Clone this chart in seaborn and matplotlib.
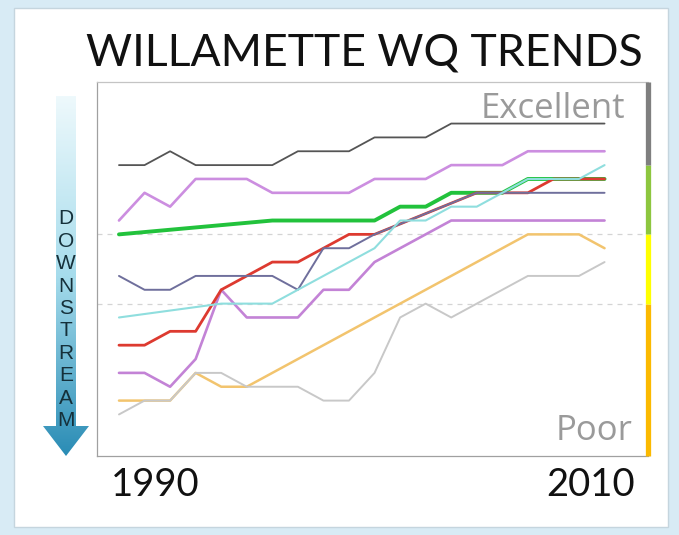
import numpy as np
import pandas as pd
import matplotlib
matplotlib.use("Agg")
import matplotlib.pyplot as plt
import matplotlib.transforms as mtransforms
from matplotlib.patches import Rectangle, Polygon
from matplotlib.colors import LinearSegmentedColormap
import seaborn as sns

# Data (water-quality index per site, by year)
years = list(range(1990, 2010))

black_vals = [21, 21, 22, 21, 21, 21, 21, 22, 22, 22, 23, 23, 23, 24, 24, 24, 24, 24, 24, 24]
purple_top_vals = [17, 19, 18, 20, 20, 20, 19, 19, 19, 19, 20, 20, 20, 21, 21, 21, 22, 22, 22, 22]
magenta_vals = [6, 6, 5, 7, 12, 10, 10, 10, 12, 12, 14, 15, 16, 17, 17, 17, 17, 17, 17, 17]
grey_vals = [3, 4, 4, 6, 6, 5, 5, 5, 4, 4, 6, 10, 11, 10, 11, 12, 13, 13, 13, 14]

green_years = [1990, 1996, 1997, 1998, 1999, 2000, 2001, 2002, 2003, 2004, 2005, 2006, 2007, 2008, 2009]
green_vals = [16, 17, 17, 17, 17, 17, 18, 18, 19, 19, 19, 20, 20, 20, 20]

red_years = [1990, 1991, 1992, 1993, 1994, 1995, 1996, 1997, 1998, 1999, 2000, 2004, 2005, 2006, 2007, 2008, 2009]
red_vals = [8, 8, 9, 9, 12, 13, 14, 14, 15, 16, 16, 19, 19, 19, 20, 20, 20]

slate_years = [1990, 1991, 1992, 1993, 1994, 1995, 1996, 1997, 1998, 1999, 2000, 2004, 2005, 2006, 2007, 2008, 2009]
slate_vals = [13, 12, 12, 13, 13, 13, 13, 12, 15, 15, 16, 19, 19, 19, 19, 19, 19]

cyan_years = [1990, 1994, 1995, 1996, 1997, 1998, 1999, 2000, 2001, 2002, 2003, 2004, 2005, 2006, 2007, 2008, 2009]
cyan_vals = [10, 11, 11, 11, 12, 13, 14, 15, 17, 17, 18, 18, 19, 20, 20, 20, 21]

orange_years = [1990, 1991, 1992, 1993, 1994, 1995, 2006, 2007, 2008, 2009]
orange_vals = [4, 4, 4, 6, 5, 5, 16, 16, 16, 15]

# quality bands on the right edge (low, high)
band_edges = [(0, 11), (11, 16), (16, 21), (21, 27)]
band_colors = ["#fbb900", "#ffff00", "#8dc63f", "#7f7f7f"]

series = [
    ("green", green_years, green_vals),
    ("orange", orange_years, orange_vals),
    ("grey", years, grey_vals),
    ("magenta", years, magenta_vals),
    ("red", red_years, red_vals),
    ("slate", slate_years, slate_vals),
    ("cyan", cyan_years, cyan_vals),
    ("purple", years, purple_top_vals),
    ("black", years, black_vals),
]
palette = {
    "green": "#22c23c", "orange": "#f2c46e", "grey": "#c8c8c8", "magenta": "#c383d6",
    "red": "#dd3a30", "slate": "#6f6f9c", "cyan": "#8fdede", "purple": "#cc8ee0",
    "black": "#555555",
}
widths = {
    "green": 2.8, "orange": 1.8, "grey": 1.4, "magenta": 1.9, "red": 2.0,
    "slate": 1.4, "cyan": 1.5, "purple": 1.9, "black": 1.3,
}

df = pd.concat(
    [pd.DataFrame({"site": n, "year": xs, "wq": ys}) for n, xs, ys in series],
    ignore_index=True,
)

sns.set_style("white")
narrow = ["Lato", "DejaVu Sans"]
wide = ["Open Sans", "DejaVu Sans"]

fig = plt.figure(figsize=(6.79, 5.35), dpi=100, facecolor="#d8ebf5")

# background layer in pixel coords: white panel, arrow, title
bg = fig.add_axes([0, 0, 1, 1], zorder=0)
bg.add_patch(Rectangle((14, 8), 654, 519, facecolor="white", edgecolor="#c5d5de", lw=1, zorder=1))
arrow_pts = [(56, 96), (76, 96), (76, 426), (89, 426), (66, 456), (43, 426), (56, 426)]
arrow = Polygon(arrow_pts, closed=True, facecolor="none", edgecolor="none", zorder=2)
bg.add_patch(arrow)
cmap = LinearSegmentedColormap.from_list("arr", ["#eef9fc", "#a6dcec", "#2a8cb5"])
im = bg.imshow(np.linspace(0, 1, 256).reshape(-1, 1), cmap=cmap, aspect="auto",
               extent=(43, 89, 456, 96), origin="upper", zorder=3)
im.set_clip_path(arrow)
for i, ch in enumerate("DOWNSTREAM"):
    bg.text(66, 219 + i * 22.4, ch, ha="center", va="center", fontsize=15,
            color="#15303a", family=["Liberation Sans", "DejaVu Sans"], zorder=4)
bg.text(364, 66, "WILLAMETTE WQ TRENDS", ha="center", va="baseline",
        fontsize=32, color="#111111", family=narrow, zorder=4)
bg.set_xlim(0, 679)
bg.set_ylim(535, 0)
bg.axis("off")

# main chart
ax = fig.add_axes([97 / 679, 79 / 535, 551 / 679, 374 / 535], zorder=1)
ax.set_facecolor("white")
sns.lineplot(data=df, x="year", y="wq", hue="site", size="site",
             hue_order=[s[0] for s in series], palette=palette, sizes=widths,
             estimator=None, sort=False, legend=False, ax=ax)

for lvl in (11, 16):
    ax.axhline(lvl, color="#d4d4d4", lw=0.9, ls=(0, (4, 4)), zorder=0)

ax.set_xlim(1989.14, 2010.7)
ax.set_ylim(0, 27)
ax.set_xlabel("")
ax.set_ylabel("")
ax.set_xticks(range(1990, 2011))
ax.set_xticklabels(["1990"] + [""] * 19 + ["2010"], fontsize=27.5, family=narrow, color="#111111")
ax.set_yticks(range(1, 27))
ax.set_yticklabels([])
ax.tick_params(axis="both", direction="out", length=4, width=0.8, color="#9a9a9a", pad=4)
labels = ax.get_xticklabels()
labels[0].set_ha("left")
labels[0].set_transform(labels[0].get_transform() + mtransforms.ScaledTranslation(-0.08, 0, fig.dpi_scale_trans))
labels[-1].set_ha("right")
labels[-1].set_transform(labels[-1].get_transform() + mtransforms.ScaledTranslation(0.05, 0, fig.dpi_scale_trans))

for side in ("left", "bottom"):
    ax.spines[side].set_color("#a0a0a0")
    ax.spines[side].set_linewidth(0.9)
ax.spines["top"].set_color("#c4c4c4")
ax.spines["top"].set_linewidth(0.9)
ax.spines["right"].set_visible(False)

# coloured quality bar on the right edge
edge = ax.get_yaxis_transform()
for (lo, hi), c in zip(band_edges, band_colors):
    ax.plot([1, 1], [lo, hi], color=c, lw=3.8, transform=edge, clip_on=False,
            solid_capstyle="butt", zorder=5)

ax.text(0.958, 0.904, "Excellent", transform=ax.transAxes, ha="right", va="baseline",
        fontsize=25, color="#9a9a9a", family=wide)
ax.text(0.971, 0.043, "Poor", transform=ax.transAxes, ha="right", va="baseline",
        fontsize=25, color="#9a9a9a", family=wide)

fig.savefig("out.png", dpi=100, facecolor=fig.get_facecolor())
